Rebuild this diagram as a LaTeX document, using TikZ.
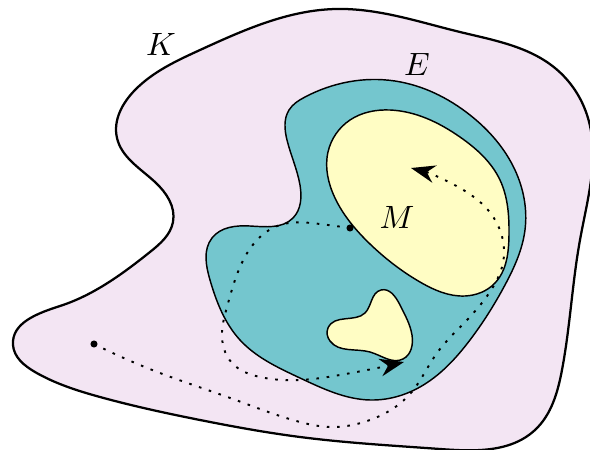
\documentclass[tikz,border=0pt]{standalone}
\usetikzlibrary{arrows.meta,hobby}

\definecolor{kpink}{RGB}{243,229,243}
\definecolor{eteal}{RGB}{116,198,206}
\definecolor{myellow}{RGB}{255,253,196}

\tikzset{
  region/.style={draw=black, line width=0.45pt},
  outer/.style={draw=black, line width=0.7pt},
  trail/.style={dash pattern=on 0.8pt off 2.4pt, line width=0.6pt, -{Stealth[length=7.5pt, width=5.5pt]}},
  spot/.style={circle, fill=black, inner sep=0pt, minimum size=2.2pt},
  lbl/.style={font=\normalsize},
}

\begin{document}
\begin{tikzpicture}[x=0.31pt, y=-0.31pt]
  \useasboundingbox (0,0) rectangle (590,450);

  % the outer set K
  \filldraw[outer, fill=kpink] plot[closed hobby] coordinates {
    (335,9) (460,32) (555,68) (588,118) (580,240) (562,370)
    (535,430) (440,449) (300,437) (200,420) (100,397) (35,372) (13,345)
    (60,306) (150,252) (173,222) (155,182) (117,138) (135,90)
    (200,50)};

  % the set E
  \filldraw[region, fill=eteal] plot[closed hobby] coordinates {
    (305,97) (395,81) (470,115) (515,170) (525,230) (505,285) (470,340)
    (420,387) (370,400) (300,378) (240,340) (210,280) (212,238) (250,226)
    (293,218) (300,185) (287,140) (289,110)};

  % the two pieces of M
  \filldraw[region, fill=myellow] plot[closed hobby] coordinates {
    (390,110) (460,137) (500,180) (509,235) (495,283) (465,296)
    (420,282) (370,244) (335,198) (328,152) (350,120)};
  \filldraw[region, fill=myellow] plot[closed hobby] coordinates {
    (381,290) (400,305) (412,335) (403,359) (370,352) (330,341)
    (328,328) (365,313)};

  % start points and paths
  \node[spot] (p1) at (94,344) {};
  \node[spot] (p2) at (350,228) {};
  \coordinate (t1) at (411,168);
  \coordinate (t2) at (404,362);

  \draw[trail] plot[hobby] coordinates {
    (p1) (160,373) (233,399) (300,422) (330,427) (370,420) (410,394)
    (437,353) (467,320) (493,287) (503,263) (501,233) (488,210) (460,188) (t1)};
  \draw[trail] plot[hobby] coordinates {
    (p2) (320,224) (280,225) (257,240) (240,267) (227,307) (222,332)
    (232,363) (260,377) (300,380) (340,375) (t2)};

  % labels
  \node[lbl] (k) at (161,44) {$K$};
  \node[lbl] (e) at (417,64) {$E$};
  \node[lbl] (m) at (397,217) {$M$};
\end{tikzpicture}
\end{document}
